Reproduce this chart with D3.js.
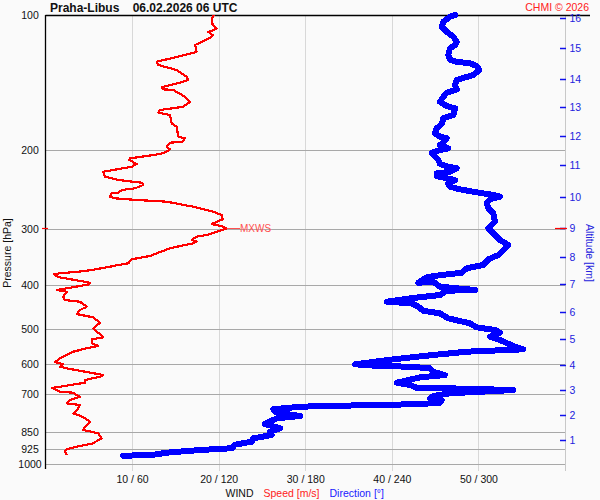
<!DOCTYPE html>
<html><head><meta charset="utf-8">
<script src="https://cdn.jsdelivr.net/npm/d3@7"></script>
<style>
html,body{margin:0;padding:0;background:#fafafa;}
svg{display:block;font-family:"Liberation Sans",Arial,sans-serif;}
</style></head>
<body>
<svg id="c" width="600" height="500"></svg>
<script>
// ---- data ----
const title = "Praha-Libus    06.02.2026 06 UTC";
const pressureTicks = [200,300,400,500,600,700,850,925,1000];
const pressureLabels = [100,200,300,400,500,600,700,850,925,1000];
const speedTicks = [10,20,30,40,50];
const dirTicks = [60,120,180,240,300];
const altKm = [1,2,3,4,5,6,7,8,9,10,11,12,13,14,15,16];
const altPressure = [884.5,777.8,684.3,601.8,526.8,459.3,397.9,345.4,297.7,254.3,216.1,186.0,160.5,138.6,118.6,101.7];

const speedP = [100,101.7,105.3,107.1,108.0,109.0,110.8,112.7,116.6,120.7,121.7,127.1,129.2,132.6,137.2,139.5,140.8,144.9,146.4,146.9,152.1,156.1,160.1,162.8,165.1,167.0,174.3,177.4,186.6,188.2,191.5,192.5,196.5,199.1,201.6,204.0,208.6,210.3,214.7,217.7,223.4,229.2,233.1,236.3,239.1,243.2,245.3,248.7,249.5,253.9,256.0,258.2,260.5,267.3,274.2,278.9,285.1,290.1,292.1,296.1,298.6,303.9,309.0,311.7,317.0,319.8,322.4,325.2,330.8,339.4,344.1,350.0,357.3,360.4,363.6,369.8,373.0,376.1,378.0,383.3,394.7,398.4,407.6,409.8,413.4,424.1,431.3,435.1,446.4,454.0,463.5,471.4,484.6,498.7,522.2,527.6,538.5,546.0,552.5,562.2,581.6,592.8,598.9,607.3,612.3,633.7,639.2,650.1,659.1,672.8,677.3,690.2,693.8,702.0,708.2,720.3,732.6,739.0,751.6,771.1,777.8,791.1,805.1,825.9,840.0,854.3,876.6,884.2,899.3,911.8,927.4,938.8,955.0];
const speedV = [19.46,19.19,19.31,19.77,19.46,18.80,19.31,18.92,17.27,17.46,16.88,12.84,13.03,15.15,16.31,16.49,15.91,13.42,13.61,14.76,16.11,16.69,15.91,13.22,13.03,14.38,14.57,15.15,15.34,16.11,15.85,14.38,14.00,14.38,14.00,13.22,9.76,9.68,10.53,9.96,6.68,6.87,8.41,11.11,11.30,10.34,8.80,8.41,7.65,7.45,8.03,10.53,14.00,17.07,19.38,20.35,20.46,19.58,19.19,20.53,20.93,19.77,18.62,17.46,16.88,17.46,17.07,16.11,14.38,12.84,12.07,9.96,9.56,8.41,7.45,5.34,3.79,1.67,0.98,1.44,5.14,4.91,2.02,1.33,2.45,2.06,2.25,3.98,4.76,3.98,3.60,5.52,6.29,5.52,6.68,5.34,5.34,6.10,4.76,3.21,1.67,1.10,2.02,1.67,2.45,6.68,6.29,4.56,4.56,1.67,0.75,1.67,3.21,3.60,3.98,2.83,2.45,3.98,3.79,3.21,3.79,4.56,5.14,4.56,4.37,6.10,6.49,6.10,5.52,3.98,2.45,2.25,2.45];

const dirP = [100,100.9,103.5,106.2,109.0,111.8,114.7,116.6,118.6,122.8,125.9,127.1,128.1,129.9,132.6,136.0,139.5,143.2,146.4,148.9,152.1,156.1,159.5,161.4,167.0,169.9,174.9,178.8,183.4,186.6,188.2,192.5,194.8,198.1,199.8,202.6,206.8,210.3,214.7,217.7,219.5,223.4,225.3,228.4,231.1,233.1,237.1,241.2,244.5,247.5,251.7,253.9,257.3,262.7,269.5,276.5,288.6,298.6,306.4,317.0,325.2,330.8,336.7,342.4,350.0,360.4,366.6,374.9,381.4,383.9,394.7,392.6,402.8,409.8,411.2,420.4,427.6,435.1,438.7,446.4,455.7,461.8,473.8,486.1,496.2,503.1,510.1,520.7,529.5,546.0,555.4,562.2,571.8,584.6,599.8,605.0,607.2,612.3,623.0,633.7,641.2,659.1,667.0,676.5,678.4,684.3,695.9,705.7,714.1,720.3,730.3,735.2,737.8,741.7,745.4,755.5,768.8,781.8,791.2,814.6,832.8,847.5,861.9,876.6,891.9,905.8,922.5,930.7,943.6,955.0,958.4];
const dirV = [283.8,280.3,275.7,274.6,278.0,282.6,285.0,283.8,280.3,279.1,280.3,285.0,294.2,298.8,300.6,296.5,285.0,283.8,285.0,278.0,275.7,273.4,278.0,283.8,282.6,275.7,274.6,271.1,269.9,273.4,278.0,275.7,273.4,279.1,273.4,267.6,269.9,272.2,273.4,279.1,285.0,280.3,271.1,271.1,278.0,283.8,279.1,280.3,287.2,296.5,310.3,315.0,308.0,305.7,306.9,310.3,311.5,306.9,310.3,315.0,320.7,318.4,316.1,313.8,306.9,303.4,291.9,288.4,268.7,264.2,258.4,268.7,273.4,297.6,278.0,273.4,252.6,236.5,253.8,258.4,261.8,273.4,279.1,294.2,298.8,311.5,315.0,308.0,315.0,324.2,331.1,291.9,268.7,241.0,214.5,231.8,252.6,266.5,268.7,276.8,259.5,243.4,252.6,257.2,280.3,324.2,280.3,268.7,266.5,274.6,273.4,259.5,241.0,204.1,176.4,157.9,160.2,176.4,160.2,152.1,162.5,155.6,156.8,144.0,142.9,131.3,129.0,107.1,84.0,73.6,53.9];

// ---- drawing ----
const svg = d3.select("#c");
const L = 45.5, R = 565, T = 15, B = 464;
const y = d3.scaleLog().domain([100,1000]).range([T,B]);
const xs = d3.scaleLinear().domain([0,60]).range([L,R]);
const xd = d3.scaleLinear().domain([0,360]).range([L,R]);

svg.append("rect").attr("width",600).attr("height",500).attr("fill","#fafafa");

// vertical grid
svg.selectAll(".vg").data(speedTicks).enter().append("line")
  .attr("x1",d=>Math.round(xs(d))+0.5).attr("x2",d=>Math.round(xs(d))+0.5)
  .attr("y1",T).attr("y2",471).attr("stroke","#d8d8d8").attr("stroke-width",1);
// right axis line
svg.append("line").attr("x1",565.5).attr("x2",565.5).attr("y1",T).attr("y2",471)
  .attr("stroke","#c8c8c8");
// horizontal grid
svg.selectAll(".hg").data(pressureTicks).enter().append("line")
  .attr("x1",L).attr("x2",565)
  .attr("y1",d=>Math.round(y(d))+0.5).attr("y2",d=>Math.round(y(d))+0.5)
  .attr("stroke","#a8a8a8").attr("stroke-width",1);
// top line
svg.append("line").attr("x1",L).attr("x2",590).attr("y1",T+0.5).attr("y2",T+0.5)
  .attr("stroke","#000").attr("stroke-width",1.3);
// left axis
svg.append("line").attr("x1",45.5).attr("x2",45.5).attr("y1",T).attr("y2",469)
  .attr("stroke","#000").attr("stroke-width",1.3);

// left labels
svg.selectAll(".pl").data(pressureLabels).enter().append("text")
  .attr("x",30).attr("y",d=>y(d)+4).attr("text-anchor","middle")
  .attr("font-size",10.5).attr("fill","#111").text(d=>d);
svg.append("text").attr("transform","translate(11,253) rotate(-90)")
  .attr("text-anchor","middle").attr("font-size",10.5).attr("fill","#111").text("Pressure [hPa]");

// bottom axis
const bx = d3.axisBottom(xs).tickValues(speedTicks).tickSize(0)
  .tickFormat((d,i)=>d+" / "+dirTicks[i]);
const gb = svg.append("g").attr("transform","translate(0,471)").call(bx);
gb.select(".domain").remove();
gb.selectAll("text").attr("font-size",10.5).attr("fill","#111")
  .attr("font-family","Liberation Sans,Arial,sans-serif").attr("dy","0.9em");

const leg = svg.append("text").attr("x",225.5).attr("y",497).attr("font-size",10.5);
leg.append("tspan").attr("fill","#111").text("WIND");
leg.append("tspan").attr("fill","#ff2020").attr("dx",10).text("Speed [m/s]");
leg.append("tspan").attr("fill","#2020ff").attr("dx",10).text("Direction [°]");

// right altitude axis
svg.selectAll(".at").data(altKm).enter().append("line")
  .attr("x1",560).attr("x2",566)
  .attr("y1",(d,i)=>Math.round(y(altPressure[i]))+0.5).attr("y2",(d,i)=>Math.round(y(altPressure[i]))+0.5)
  .attr("stroke","#1010ee").attr("stroke-width",1.5);
svg.selectAll(".al").data(altKm).enter().append("text")
  .attr("x",569.5).attr("y",(d,i)=>y(altPressure[i])+4)
  .attr("font-size",10.5).attr("fill","#2222dd").text(d=>d);
svg.append("text").attr("transform","translate(586,253) rotate(90)")
  .attr("text-anchor","middle").attr("font-size",10.5).attr("fill","#2222dd").text("Altitude [km]");

// title
svg.append("text").attr("x",50).attr("y",12).attr("font-size",12).attr("font-weight","bold")
  .attr("fill","#111").attr("xml:space","preserve").style("white-space","pre").text(title);
svg.append("text").attr("x",589).attr("y",11).attr("text-anchor","end").attr("font-size",10.5)
  .attr("fill","#ff2020").text("CHMI © 2026");

// direction line (blue)
const dirData = dirP.map((p,i)=>({p, v:dirV[i]}));
svg.append("path").datum(dirData)
  .attr("d", d3.line().x(d=>xd(d.v)).y(d=>y(d.p)))
  .attr("fill","none").attr("stroke","#0000ff").attr("stroke-width",6)
  .attr("stroke-linejoin","round").attr("stroke-linecap","round")
  .attr("shape-rendering","crispEdges");

// speed line (red)
const spData = speedP.map((p,i)=>({p, v:speedV[i]}));
svg.append("path").datum(spData)
  .attr("d", d3.line().x(d=>xs(d.v)).y(d=>y(d.p)))
  .attr("fill","none").attr("stroke","#ff0000").attr("stroke-width",2.2)
  .attr("stroke-linejoin","round").attr("shape-rendering","crispEdges");

// max wind marker
const mi = d3.maxIndex(speedV);
const my = Math.round(y(speedP[mi]))+0.5;
svg.append("line").attr("x1",xs(speedV[mi])).attr("x2",240).attr("y1",my).attr("y2",my)
  .attr("stroke","#ff5050").attr("stroke-width",1);
svg.append("text").attr("x",240).attr("y",my+3.5).attr("font-size",10)
  .attr("fill","#ff5050").text("MXWS");
svg.append("line").attr("x1",42).attr("x2",48).attr("y1",my).attr("y2",my)
  .attr("stroke","#ff0000").attr("stroke-width",1.2);
svg.append("line").attr("x1",555).attr("x2",567).attr("y1",my).attr("y2",my)
  .attr("stroke","#ff0000").attr("stroke-width",1.2);
</script>
</body></html>
